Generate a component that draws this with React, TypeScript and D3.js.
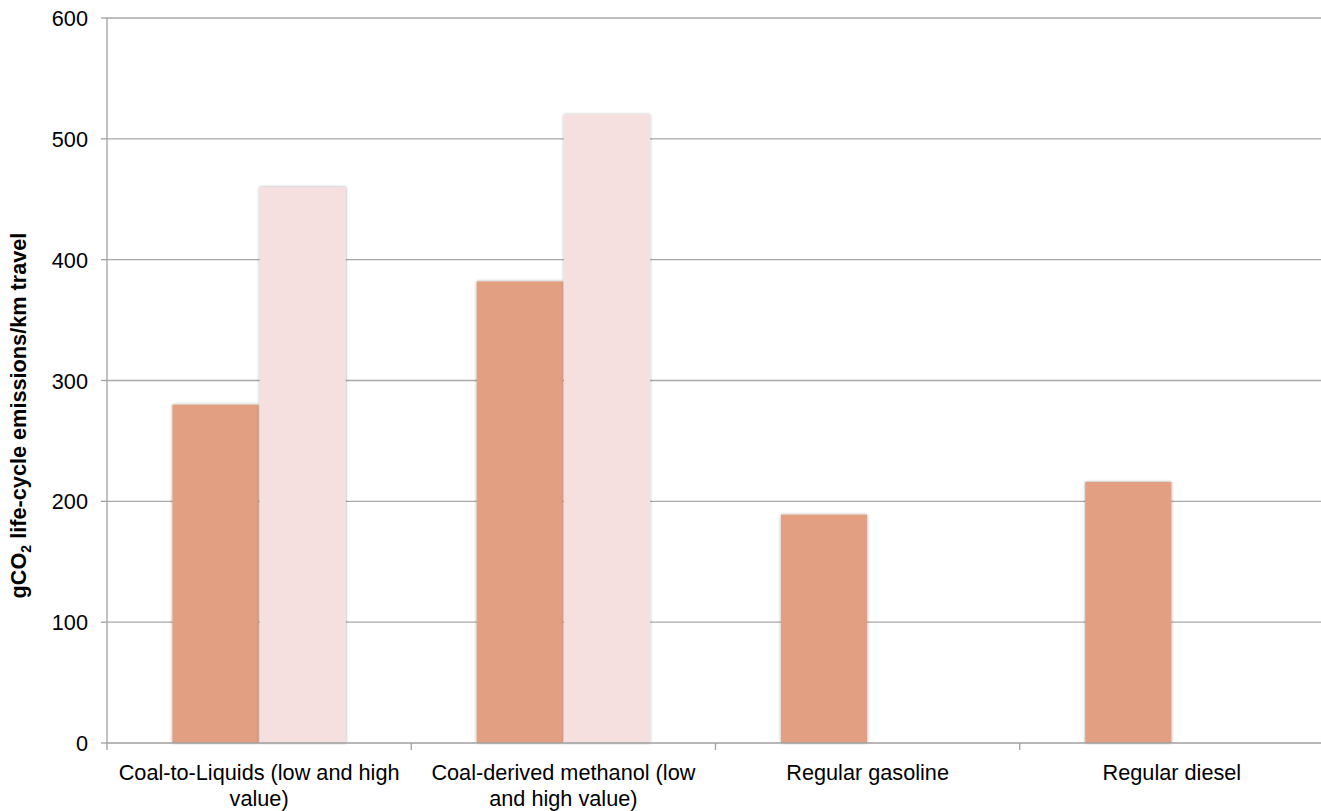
import React from "react";
import * as d3 from "d3";

const categories = [
  "Coal-to-Liquids (low and high value)",
  "Coal-derived methanol (low and high value)",
  "Regular gasoline",
  "Regular diesel",
];
const seriesNames = ["low", "high"];
const lowValues: (number | null)[] = [280, 382, 189, 216];
const highValues: (number | null)[] = [460, 520, null, null];
const yTicks = [0, 100, 200, 300, 400, 500, 600];
const seriesColors = ["#E29F81", "#F5DFDF"];

const W = 1321;
const H = 811;
const left = 107;
const right = 1324;
const top = 18;
const bottom = 743;
const FONT = "'Liberation Sans', Arial, sans-serif";
const FS = 21.7;

function wrap(text: string, maxW: number): string[] {
  let ctx: CanvasRenderingContext2D | null = null;
  try {
    ctx = document.createElement("canvas").getContext("2d");
  } catch (e) {
    ctx = null;
  }
  const measure = (s: string) => {
    if (ctx) {
      ctx.font = `${FS}px ${FONT}`;
      return ctx.measureText(s).width;
    }
    return s.length * FS * 0.5;
  };
  const words = text.split(" ");
  const lines: string[] = [];
  let cur = "";
  for (const w of words) {
    const t = cur ? cur + " " + w : w;
    if (measure(t) > maxW && cur) {
      lines.push(cur);
      cur = w;
    } else cur = t;
  }
  if (cur) lines.push(cur);
  return lines;
}

export default function App() {
  const x0 = d3.scaleBand<string>().domain(categories).range([left, right]).padding(0);
  const bw = x0.bandwidth();
  const gap = 1.51;
  const groupW = (bw * 2) / (2 + gap);
  const x1 = d3
    .scaleBand<string>()
    .domain(seriesNames)
    .range([(bw - groupW) / 2, (bw + groupW) / 2])
    .padding(0);
  const y = d3.scaleLinear().domain([0, 600]).range([bottom, top]);
  const series = [lowValues, highValues];

  return (
    <svg
      width={W}
      height={H}
      style={{ position: "absolute", left: 0, top: 0, background: "#fff" }}
      fontFamily={FONT}
    >
      <defs>
        <filter id="shadow" x="-10%" y="-10%" width="120%" height="120%">
          <feDropShadow dx="0" dy="0" stdDeviation="1.4" floodColor="#000" floodOpacity="0.38" />
        </filter>
      </defs>
      {/* gridlines */}
      {yTicks.filter((t) => t > 0).map((t) => (
        <line key={t} x1={left} x2={right} y1={y(t)} y2={y(t)} stroke="#A9A9A9" strokeWidth={1.3} />
      ))}
      {/* bars */}
      {series.map((vals, si) =>
        vals.map((v, ci) =>
          v == null ? null : (
            <rect
              key={`${si}-${ci}`}
              x={(x0(categories[ci]) as number) + (x1(seriesNames[si]) as number) + (si === 1 ? 0.5 : 0)}
              y={y(v)}
              width={x1.bandwidth() - 0.5}
              height={y(0) - y(v)}
              fill={seriesColors[si]}
              filter="url(#shadow)"
            />
          )
        )
      )}
      {/* axes */}
      <line x1={left} x2={right} y1={bottom} y2={bottom} stroke="#A0A0A0" strokeWidth={1.3} />
      <line x1={left} x2={left} y1={top} y2={bottom + 7} stroke="#A0A0A0" strokeWidth={1.3} />
      {yTicks.map((t) => (
        <g key={t}>
          <line x1={left - 6} x2={left} y1={y(t)} y2={y(t)} stroke="#A0A0A0" strokeWidth={1.3} />
          <text x={88} y={y(t)} dy="0.37em" textAnchor="end" fontSize={FS} fill="#000">
            {t}
          </text>
        </g>
      ))}
      {categories.map((c, i) => {
        const bx = x0(c) as number;
        const lines = wrap(c, bw - 12);
        return (
          <g key={c}>
            {i > 0 && <line x1={bx} x2={bx} y1={bottom} y2={bottom + 7} stroke="#A0A0A0" strokeWidth={1.3} />}
            <text x={bx + bw / 2} y={780} textAnchor="middle" fontSize={FS} fill="#000">
              {lines.map((l, li) => (
                <tspan key={li} x={bx + bw / 2} dy={li === 0 ? 0 : 25.5}>
                  {l}
                </tspan>
              ))}
            </text>
          </g>
        );
      })}
      {/* y title */}
      <text
        transform={`translate(26, ${(top + bottom) / 2 + 35}) rotate(-90)`}
        textAnchor="middle"
        fontSize={21.7}
        fontWeight="bold"
        fill="#000"
      >
        gCO
        <tspan fontSize={14} dy={5}>2</tspan>
        <tspan dy={-5}> life-cycle emissions/km travel</tspan>
      </text>
    </svg>
  );
}
